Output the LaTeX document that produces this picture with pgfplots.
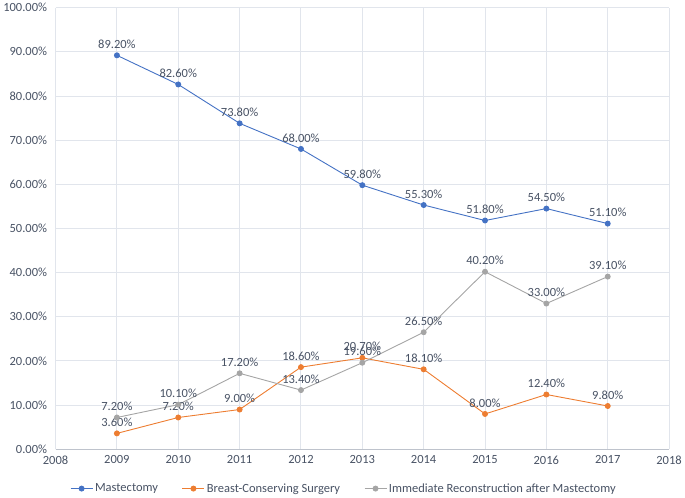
\documentclass[border=0pt]{standalone}
\usepackage{pgfplots}
\pgfplotsset{compat=1.18}
\usepackage{fontspec}
\setmainfont{Carlito}
\definecolor{cblue}{HTML}{4472C4}
\definecolor{corange}{HTML}{ED7D31}
\definecolor{cgray}{HTML}{A5A5A5}
\definecolor{ctext}{RGB}{72,82,100}
\definecolor{cgrid}{RGB}{225,229,236}
\definecolor{caxis}{RGB}{190,195,204}
\begin{document}
\begin{tikzpicture}
\begin{axis}[
  scale only axis,
  width=614bp, height=442bp,
  xmin=2008, xmax=2018, ymin=0, ymax=100,
  xtick={2008,2009,...,2018},
  ytick={0,10,...,100},
  /pgf/number format/assume math mode=true,
  xticklabel={\pgfmathprintnumber[1000 sep={}]{\tick}},
  yticklabel={\pgfmathprintnumber[fixed,fixed zerofill,precision=2]{\tick}\%},
  ticklabel style={font=\fontsize{12.5bp}{14bp}\selectfont, text=ctext},
  xticklabel style={yshift=-3bp},
  yticklabel style={xshift=-5bp},
  major tick length=0pt,
  grid=major,
  major grid style={draw=cgrid, line width=0.9bp},
  axis lines=left,
  axis line style={-},
  x axis line style={draw=caxis, line width=1bp},
  y axis line style={draw=cgrid, line width=0.9bp},
  every axis plot/.append style={line width=0.9bp, mark=*, mark size=2.5bp},
  nodes near coords={\pgfmathprintnumber[fixed,fixed zerofill,precision=2]{\pgfplotspointmeta}\%},
  nodes near coords style={font=\fontsize{12.5bp}{14bp}\selectfont, text=ctext, anchor=south, yshift=3bp},
  legend columns=3,
  legend style={at={(0.47,-0.068)}, anchor=north, draw=none, fill=none,
    font=\fontsize{12.5bp}{14bp}\selectfont, text=ctext,
    /tikz/every even column/.append style={column sep=22bp}},
  legend image code/.code={
    \draw[mark repeat=2,mark phase=2] plot coordinates {(0bp,0bp) (11bp,0bp) (22bp,0bp)};
  },
]
\addplot[cblue, mark options={fill=cblue, draw=cblue}] coordinates {
(2009,89.2) (2010,82.6) (2011,73.8) (2012,68.0) (2013,59.8) (2014,55.3) (2015,51.8) (2016,54.5) (2017,51.1)};
\addlegendentry{Mastectomy}
\addplot[corange, mark options={fill=corange, draw=corange}] coordinates {
(2009,3.6) (2010,7.2) (2011,9.0) (2012,18.6) (2013,20.7) (2014,18.1) (2015,8.0) (2016,12.4) (2017,9.8)};
\addlegendentry{Breast-Conserving Surgery}
\addplot[cgray, mark options={fill=cgray, draw=cgray}] coordinates {
(2009,7.2) (2010,10.1) (2011,17.2) (2012,13.4) (2013,19.6) (2014,26.5) (2015,40.2) (2016,33.0) (2017,39.1)};
\addlegendentry{Immediate Reconstruction after Mastectomy}
\end{axis}
\end{tikzpicture}
\end{document}
